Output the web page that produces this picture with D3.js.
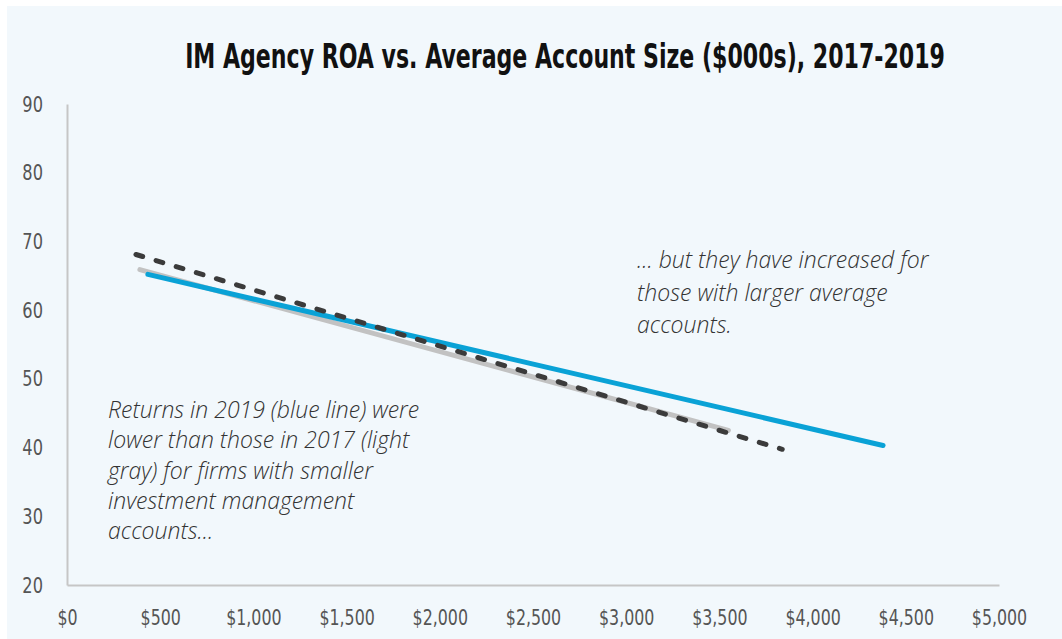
<!DOCTYPE html>
<html>
<head>
<meta charset="utf-8">
<script src="https://cdn.jsdelivr.net/npm/d3@7/dist/d3.min.js"></script>
<style>
  html, body { margin: 0; padding: 0; background: #ffffff; }
  svg { display: block; }
</style>
</head>
<body>
<svg id="chart" width="1062" height="639"></svg>
<script>
// ---- data ----
const titleText = "IM Agency ROA vs. Average Account Size ($000s), 2017-2019";
const xTicks = [0, 500, 1000, 1500, 2000, 2500, 3000, 3500, 4000, 4500, 5000];
const yTicks = [20, 30, 40, 50, 60, 70, 80, 90];
const series2017X = [391, 3548];
const series2017Y = [65.9, 42.5];
const seriesDashedX = [370, 3837];
const seriesDashedY = [68.1, 39.75];
const series2019X = [434, 4378];
const series2019Y = [65.2, 40.3];
const noteLeft = ["Returns in 2019 (blue line) were", "lower than those in 2017 (light", "gray) for firms with smaller", "investment management", "accounts..."];
const noteRight = ["... but they have increased for", "those with larger average", "accounts."];

const svg = d3.select("#chart");
const W = 1062, H = 639;
const condensed = "'DejaVu Sans Condensed', 'Liberation Sans Narrow', sans-serif";
const italicFont = "'Open Sans', 'Noto Sans', sans-serif";

svg.append("rect").attr("x", 7).attr("y", 6).attr("width", W - 7).attr("height", H - 6)
  .attr("fill", "#f2f8fc");

const x = d3.scaleLinear().domain([0, 5000]).range([67, 999]);
const y = d3.scaleLinear().domain([20, 90]).range([585, 104]);

// title (measured, then squeezed horizontally to the reference width)
const title = svg.append("text").attr("x", 0).attr("y", 0).attr("text-anchor", "middle")
  .attr("font-family", condensed).attr("font-weight", "bold").attr("font-size", 34)
  .attr("fill", "#111").text(titleText);
const tw = title.node().getComputedTextLength();
title.attr("transform", `translate(565,68) scale(${760 / tw},1)`);

// axes
const yAxis = d3.axisLeft(y).tickValues(yTicks).tickSize(0).tickPadding(0);
const gy = svg.append("g").attr("transform", `translate(${x(0)},0)`).call(yAxis);
gy.select(".domain").attr("stroke", "#c6c6c6").attr("stroke-width", 2);
gy.selectAll("text").attr("font-family", condensed).attr("font-size", 22).attr("fill", "#555")
  .attr("x", 0).attr("transform", "translate(-24,0) scale(0.82,1)");

const xAxis = d3.axisBottom(x).tickValues(xTicks).tickSize(0).tickPadding(24)
  .tickFormat(d => "$" + d3.format(",")(d));
const gx = svg.append("g").attr("transform", `translate(0,${y(20)})`).call(xAxis);
gx.select(".domain").attr("stroke", "#c6c6c6").attr("stroke-width", 2);
gx.selectAll("text").attr("font-family", condensed).attr("font-size", 22).attr("fill", "#555")
  .attr("transform", "scale(0.8,1)");

// lines
const line = d3.line().x(d => x(d[0])).y(d => y(d[1]));
function draw(xs, ys, color, dash) {
  const pts = xs.map((v, i) => [v, ys[i]]);
  const p = svg.append("path").datum(pts).attr("d", line)
    .attr("fill", "none").attr("stroke", color).attr("stroke-width", 5)
    .attr("stroke-linecap", "round");
  if (dash) p.attr("stroke-dasharray", dash);
}
draw(series2017X, series2017Y, "#c2c2c2", null);
draw(series2019X, series2019Y, "#0aa2d6", null);
draw(seriesDashedX, seriesDashedY, "#3b3b3b", "7,14");

// annotations
function note(lines, x0, y0, dy) {
  const t = svg.append("text").attr("font-family", italicFont).attr("font-style", "italic")
    .attr("font-weight", 300).attr("font-size", 23).attr("fill", "#333");
  lines.forEach((s, i) => t.append("tspan").attr("x", x0).attr("y", y0 + i * dy).text(s));
}
note(noteLeft, 108, 418, 30.3);
note(noteRight, 637, 268, 32.5);
</script>
</body>
</html>
